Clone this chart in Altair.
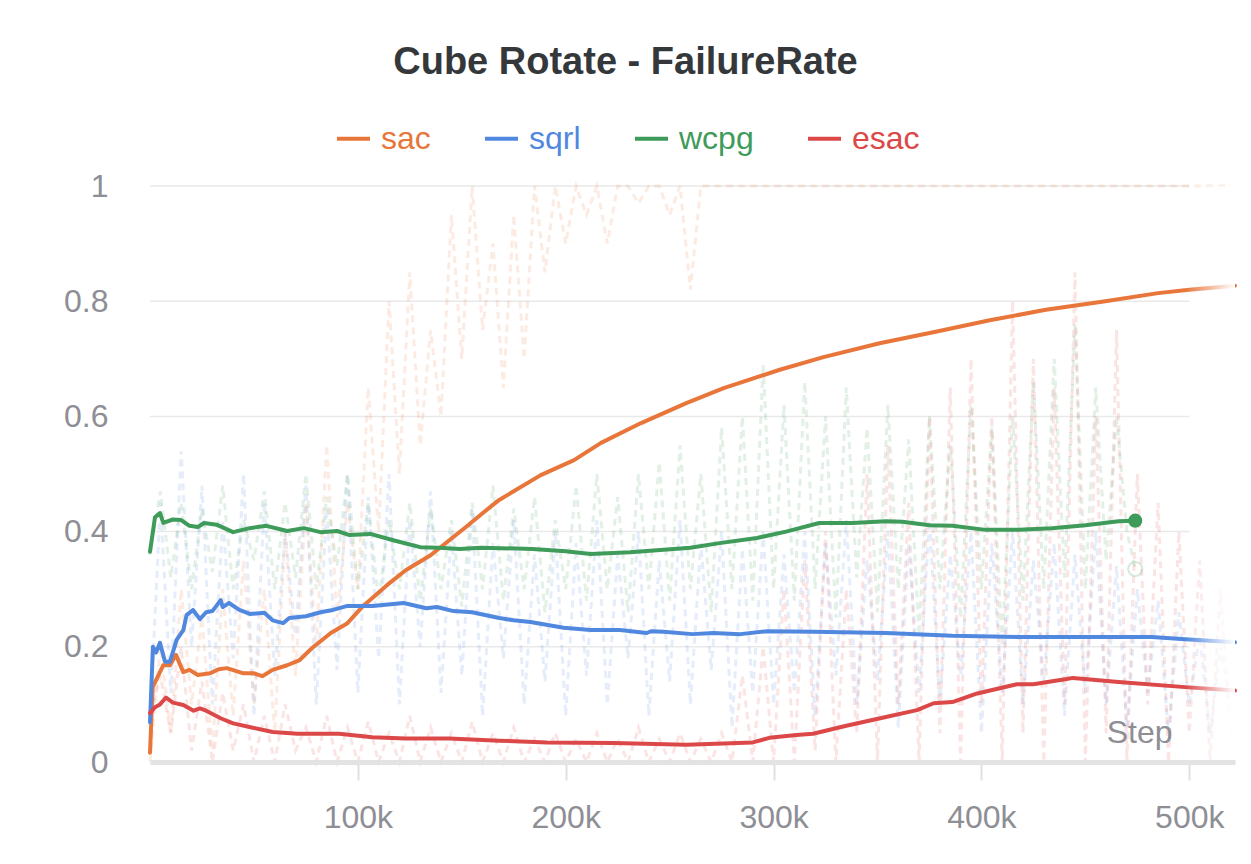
import altair as alt
import pandas as pd

FONT = "Liberation Sans"
SERIES = ["sac", "sqrl", "wcpg", "esac"]
COLORS = ["#E8763A", "#5088E0", "#3E9B59", "#DC4848"]

# ---- smoothed series ----
sac_steps = [0, 1300, 6400, 9600, 12500, 16000, 19000, 23000, 29000, 33000, 37000, 45000, 50000, 54000,
             59000, 66000, 72000, 78000, 87000, 95000, 102000, 114000, 123000, 135000, 144000, 152000,
             160000, 168000, 188000, 204000, 217000, 236000, 258000, 276000, 303000, 324000, 351000,
             378000, 404000, 431000, 458000, 485000, 500000, 522000]
sac_vals = [0.016, 0.13, 0.168, 0.168, 0.186, 0.156, 0.16, 0.151, 0.154, 0.161, 0.163, 0.154, 0.154, 0.149,
            0.16, 0.168, 0.177, 0.198, 0.224, 0.241, 0.269, 0.307, 0.333, 0.359, 0.385, 0.408,
            0.432, 0.455, 0.498, 0.524, 0.554, 0.588, 0.623, 0.649, 0.681, 0.703, 0.727,
            0.747, 0.767, 0.785, 0.799, 0.814, 0.82, 0.827]

sqrl_steps = [0, 1400, 2900, 4800, 7200, 9600, 12800, 16000, 17600, 20700, 24000, 27000, 30000, 34000,
              35000, 38000, 43000, 48000, 55000, 59000, 64000, 67000, 75000, 82000, 88000, 95000, 107000,
              122000, 133000, 138000, 146000, 155000, 168000, 175000, 183000, 199000, 212000, 226000,
              239000, 241000, 247000, 261000, 271000, 284000, 297000, 319000, 354000, 386000, 418000,
              450000, 482000, 498000, 522000]
sqrl_vals = [0.069, 0.2, 0.19, 0.207, 0.174, 0.174, 0.212, 0.229, 0.255, 0.264, 0.248, 0.26, 0.262, 0.281,
             0.269, 0.276, 0.264, 0.257, 0.259, 0.246, 0.241, 0.25, 0.253, 0.26, 0.264, 0.271, 0.271,
             0.276, 0.267, 0.269, 0.262, 0.26, 0.25, 0.246, 0.243, 0.233, 0.229, 0.229,
             0.224, 0.227, 0.226, 0.222, 0.224, 0.222, 0.227, 0.226, 0.224, 0.219, 0.217,
             0.217, 0.217, 0.213, 0.208]

wcpg_steps = [0, 2400, 4800, 6400, 11000, 15000, 19000, 23000, 26000, 32000, 40000, 48000, 56000, 66000,
              74000, 82000, 90000, 96000, 106000, 117000, 130000, 139000, 149000, 159000, 184000, 200000,
              212000, 231000, 260000, 274000, 292000, 306000, 322000, 338000, 354000, 362000, 375000,
              386000, 402000, 418000, 434000, 450000, 466000, 474000]
wcpg_vals = [0.365, 0.425, 0.432, 0.415, 0.421, 0.42, 0.41, 0.408, 0.415, 0.412, 0.399, 0.406, 0.41, 0.401,
             0.406, 0.399, 0.401, 0.394, 0.396, 0.385, 0.373, 0.372, 0.37, 0.372, 0.37, 0.366,
             0.361, 0.364, 0.372, 0.38, 0.389, 0.4, 0.415, 0.415, 0.418, 0.417, 0.411,
             0.41, 0.403, 0.403, 0.406, 0.411, 0.418, 0.419]

esac_steps = [0, 2400, 4800, 7700, 11000, 16000, 21000, 24000, 27000, 34000, 40000, 50000, 59000, 71000,
              91000, 107000, 123000, 144000, 168000, 191000, 223000, 258000, 290000, 298000, 311000,
              319000, 335000, 354000, 369000, 377000, 386000, 398000, 417000, 425000, 441000, 444000,
              466000, 498000, 522000]
esac_vals = [0.085, 0.095, 0.1, 0.112, 0.103, 0.099, 0.089, 0.093, 0.089, 0.076, 0.067, 0.059, 0.052, 0.049,
             0.049, 0.043, 0.041, 0.041, 0.037, 0.034, 0.033, 0.03, 0.034, 0.042, 0.047,
             0.049, 0.063, 0.078, 0.09, 0.102, 0.104, 0.119, 0.135, 0.135, 0.144, 0.146,
             0.139, 0.13, 0.124]

# ---- raw (unsmoothed) series, drawn faint and dashed, one point every 5k steps ----
raw_steps = [0, 5000, 10000, 15000, 20000, 25000, 30000, 35000, 40000, 45000, 50000, 55000, 60000, 65000,
             70000, 75000, 80000, 85000, 90000, 95000, 100000, 105000, 110000, 115000, 120000, 125000,
             130000, 135000, 140000, 145000, 150000, 155000, 160000, 165000, 170000, 175000, 180000,
             185000, 190000, 195000, 200000, 205000, 210000, 215000, 220000, 225000, 230000, 235000,
             240000, 245000, 250000, 255000, 260000, 265000, 270000, 275000, 280000, 285000, 290000,
             295000, 300000, 305000, 310000, 315000, 320000, 325000, 330000, 335000, 340000, 345000,
             350000, 355000, 360000, 365000, 370000, 375000, 380000, 385000, 390000, 395000, 400000,
             405000, 410000, 415000, 420000, 425000, 430000, 435000, 440000, 445000, 450000, 455000,
             460000, 465000, 470000, 475000, 480000, 485000, 490000, 495000, 500000, 505000, 510000,
             515000, 520000]
sac_raw = [0.0, 0.2, 0.05, 0.3, 0.1, 0.25, 0.02, 0.3, 0.08, 0.35, 0.1, 0.3, 0.05, 0.4, 0.15, 0.45, 0.2,
           0.55, 0.25, 0.45, 0.3,
           0.65, 0.4, 0.8, 0.5, 0.85, 0.55, 0.75, 0.6, 0.95, 0.7, 1.0, 0.75, 0.9, 0.65, 0.95, 0.7, 1.0,
           0.85, 1.0, 0.9,
           1.0, 0.95, 1.0, 0.9, 1.0, 1.0, 0.97, 1.0, 1.0, 0.95, 1.0, 0.82, 1.0, 1.0, 1.0, 1.0, 1.0, 1.0,
           1.0, 1.0,
           1.0, 1.0, 1.0, 1.0, 1.0, 1.0, 1.0, 1.0, 1.0, 1.0, 1.0, 1.0, 1.0, 1.0, 1.0, 1.0, 1.0, 1.0, 1.0,
           1.0, 1.0, 1.0, 1.0, 1.0, 1.0, 1.0, 1.0, 1.0, 1.0, 1.0, 1.0, 1.0, 1.0, 1.0, 1.0, 1.0, 1.0, 1.0,
           1.0, 1.0, 1.0, 1.0, 1.0, 1.0]
sqrl_raw = [0.07, 0.45, 0.12, 0.54, 0.2, 0.48, 0.1, 0.42, 0.18, 0.5, 0.08, 0.45, 0.15, 0.4, 0.22, 0.48,
            0.1, 0.44, 0.16, 0.5, 0.12,
            0.46, 0.18, 0.5, 0.1, 0.42, 0.2, 0.47, 0.12, 0.4, 0.15, 0.44, 0.08, 0.38, 0.18, 0.42, 0.1,
            0.36, 0.14, 0.4, 0.08,
            0.38, 0.15, 0.42, 0.1, 0.36, 0.18, 0.4, 0.08, 0.35, 0.14, 0.42, 0.1, 0.38, 0.16, 0.4, 0.06,
            0.37, 0.12, 0.4, 0.1,
            0.36, 0.12, 0.4, 0.08, 0.38, 0.15, 0.42, 0.1, 0.35, 0.14, 0.4, 0.06, 0.38, 0.12, 0.42, 0.1,
            0.36, 0.15, 0.4, 0.05, 0.38, 0.12, 0.4, 0.1, 0.35, 0.14, 0.38, 0.08, 0.36, 0.12, 0.4, 0.1,
            0.34, 0.06, 0.3, 0.12, 0.28, 0.05, 0.26, 0.1, 0.22, 0.05, 0.2, 0.1]
esac_raw = [0.08, 0.15, 0.05, 0.2, 0.02, 0.14, 0.0, 0.12, 0.02, 0.1, 0.0, 0.08, 0.0, 0.1, 0.02, 0.06,
            0.0, 0.08, 0.0, 0.06, 0.0,
            0.07, 0.0, 0.05, 0.0, 0.08, 0.0, 0.06, 0.0, 0.05, 0.0, 0.07, 0.0, 0.05, 0.0, 0.06, 0.0,
            0.04, 0.0, 0.05, 0.0,
            0.04, 0.0, 0.05, 0.0, 0.04, 0.0, 0.06, 0.0, 0.04, 0.0, 0.05, 0.0, 0.04, 0.0, 0.05, 0.0,
            0.15, 0.0, 0.2, 0.0,
            0.3, 0.0, 0.35, 0.02, 0.4, 0.0, 0.3, 0.05, 0.5, 0.0, 0.55, 0.1, 0.45, 0.0, 0.6, 0.05, 0.65,
            0.0, 0.7, 0.1, 0.6, 0.0, 0.8, 0.05, 0.7, 0.0, 0.65, 0.1, 0.85, 0.0, 0.6, 0.05, 0.75, 0.0,
            0.5, 0.1, 0.45, 0.0, 0.4, 0.05, 0.35, 0.0, 0.3, 0.05]
wcpg_raw_steps = [0, 5000, 10000, 15000, 20000, 25000, 30000, 35000, 40000, 45000, 50000, 55000, 60000,
                  65000, 70000, 75000, 80000, 85000, 90000, 95000, 100000, 105000, 110000, 115000,
                  120000, 125000, 130000, 135000, 140000, 145000, 150000, 155000, 160000, 165000,
                  170000, 175000, 180000, 185000, 190000, 195000, 200000, 205000, 210000, 215000,
                  220000, 225000, 230000, 235000, 240000, 245000, 250000, 255000, 260000, 265000,
                  270000, 275000, 280000, 285000, 290000, 295000, 300000, 305000, 310000, 315000,
                  320000, 325000, 330000, 335000, 340000, 345000, 350000, 355000, 360000, 365000,
                  370000, 375000, 380000, 385000, 390000, 395000, 400000, 405000, 410000, 415000,
                  420000, 425000, 430000, 435000, 440000, 445000, 450000, 455000, 460000, 465000,
                  470000, 474000]
wcpg_raw = [0.36, 0.47, 0.32, 0.45, 0.3, 0.44, 0.33, 0.48, 0.3, 0.42, 0.35, 0.47, 0.3, 0.45, 0.32, 0.5,
            0.3, 0.46, 0.34, 0.5, 0.3,
            0.45, 0.28, 0.42, 0.3, 0.45, 0.28, 0.44, 0.3, 0.42, 0.27, 0.45, 0.3, 0.48, 0.28, 0.44, 0.3,
            0.46, 0.26, 0.42, 0.3,
            0.48, 0.28, 0.5, 0.3, 0.46, 0.26, 0.5, 0.3, 0.52, 0.28, 0.55, 0.3, 0.5, 0.26, 0.58, 0.3,
            0.6, 0.28, 0.69, 0.3,
            0.62, 0.28, 0.66, 0.3, 0.6, 0.25, 0.65, 0.32, 0.58, 0.26, 0.62, 0.3, 0.56, 0.22, 0.6, 0.3,
            0.55, 0.25, 0.62, 0.3, 0.58, 0.2, 0.6, 0.28, 0.66, 0.3, 0.7, 0.32, 0.76, 0.3, 0.65, 0.35,
            0.6, 0.4,
            0.335]

y_ticks = [0, 0.2, 0.4, 0.6, 0.8, 1.0]
grid_vals = [0.2, 0.4, 0.6, 0.8, 1.0]
x_ticks = [100000, 200000, 300000, 400000, 500000]
X_MAX = 522000
GRID_END = 500000
FADE_START = 498000

smooth_df = pd.concat([
    pd.DataFrame({"step": sac_steps, "value": sac_vals, "series": "sac"}),
    pd.DataFrame({"step": sqrl_steps, "value": sqrl_vals, "series": "sqrl"}),
    pd.DataFrame({"step": wcpg_steps, "value": wcpg_vals, "series": "wcpg"}),
    pd.DataFrame({"step": esac_steps, "value": esac_vals, "series": "esac"}),
], ignore_index=True)

raw_df = pd.concat([
    pd.DataFrame({"step": raw_steps, "value": sac_raw, "series": "sac"}),
    pd.DataFrame({"step": raw_steps, "value": sqrl_raw, "series": "sqrl"}),
    pd.DataFrame({"step": wcpg_raw_steps, "value": wcpg_raw, "series": "wcpg"}),
    pd.DataFrame({"step": raw_steps, "value": esac_raw, "series": "esac"}),
], ignore_index=True)

grid_df = pd.DataFrame({"value": grid_vals, "step": [0] * len(grid_vals),
                        "step2": [GRID_END] * len(grid_vals)})
end_df = pd.DataFrame({"step": [wcpg_steps[-1]], "value": [wcpg_vals[-1]]})
raw_end_df = pd.DataFrame({"step": [wcpg_raw_steps[-1]], "value": [wcpg_raw[-1]]})
fade_df = pd.DataFrame({"step": [FADE_START], "step2": [X_MAX]})

GRAY = "#8E8E95"
xs = alt.Scale(domain=[0, X_MAX], nice=False, zero=False)
ys = alt.Scale(domain=[0, 1], nice=False)
x_axis = alt.Axis(
    values=x_ticks, format="~s", title="Step", titleX=1022, titleY=-20, titleAlign="right",
    titleBaseline="alphabetic", titleFontSize=32, titleFontWeight="normal", titleColor=GRAY,
    titleFont=FONT, labelFont=FONT, labelFontSize=32, labelColor=GRAY, labelPadding=22,
    tickSize=18, tickWidth=2, tickColor="#E0E0E0", domainColor="#E3E3E3", domainWidth=5,
    grid=False, zindex=2, labelFlush=False)
y_axis = alt.Axis(
    values=y_ticks, format="~g", title=None, domain=False, ticks=False, grid=False,
    labelFont=FONT, labelFontSize=32, labelColor=GRAY, labelPadding=42)


def X():
    return alt.X("step:Q", scale=xs, axis=x_axis)


def Y():
    return alt.Y("value:Q", scale=ys, axis=y_axis)


grid = alt.Chart(grid_df).mark_rule(color="#E9E9E9", strokeWidth=1.5).encode(
    x=X(), x2="step2:Q", y=Y())

raw_layers = []
for name, col in zip(SERIES, COLORS):
    raw_layers.append(
        alt.Chart(raw_df).transform_filter(alt.datum.series == name)
        .mark_line(color=col, strokeWidth=3, strokeDash=[7, 5], opacity=0.15)
        .encode(x=X(), y=Y())
    )

label_expr = " : ".join(f"datum.value === '{s}' ? '{c}'" for s, c in zip(SERIES[:-1], COLORS[:-1])) \
    + f" : '{COLORS[-1]}'"

main = alt.Chart(smooth_df).mark_line(strokeWidth=4, strokeCap="round", strokeJoin="round").encode(
    x=X(), y=Y(),
    color=alt.Color("series:N", sort=SERIES, scale=alt.Scale(domain=SERIES, range=COLORS),
                    legend=alt.Legend(
                        title=None, orient="none", legendX=185, legendY=-66, direction="horizontal",
                        symbolType="stroke", symbolSize=1089, symbolStrokeWidth=4,
                        labelFont=FONT, labelFontSize=32, labelOffset=9, columnPadding=46, padding=0,
                        labelColor={"expr": label_expr})),
)

raw_end = alt.Chart(raw_end_df).mark_point(filled=False, size=200, color="#3E9B59", opacity=0.2,
                                           strokeWidth=2).encode(x=X(), y=Y())
end_dot = alt.Chart(end_df).mark_circle(size=200, color="#3E9B59", opacity=1).encode(x=X(), y=Y())

fade = alt.Chart(fade_df).mark_rect(fill=alt.Gradient(
    gradient="linear",
    stops=[alt.GradientStop(color="rgba(255,255,255,0)", offset=0),
           alt.GradientStop(color="#ffffff", offset=1)],
    x1=0, x2=1, y1=0, y2=0)).encode(
    x=X(), x2="step2:Q", y=alt.value(0), y2=alt.value(576))

chart = alt.layer(grid, *raw_layers, main, raw_end, end_dot, fade).properties(
    width=1085, height=576,
    title=alt.Title("Cube Rotate - FailureRate", font=FONT, fontSize=38, fontWeight="bold",
                    color="#35383B", anchor="middle", frame="group", dx=-67, offset=38),
    padding={"left": 142, "top": 178, "right": 8, "bottom": 80},
    autosize=alt.AutoSizeParams(type="none"),
    background="white",
).configure_view(stroke=None)

chart.save("out.html", embed_options={"renderer": "svg", "actions": False})
